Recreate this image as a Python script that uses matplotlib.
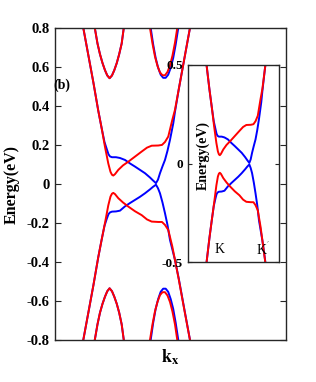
import matplotlib
matplotlib.use("Agg")
import matplotlib.pyplot as plt

plt.rcParams["font.family"] = ["Liberation Serif", "DejaVu Serif"]
plt.rcParams["mathtext.fontset"] = "stix"

# band data (kx in arbitrary units, E in eV)
k_red = [0.283, 0.330, 0.384, 0.433, 0.467, 0.500, 0.533, 0.555, 0.570, 0.583,
         0.600, 0.633, 0.680, 0.733, 0.800, 0.867, 0.920, 0.967, 1.033, 1.070,
         1.100, 1.133, 1.173, 1.200, 1.238, 1.295, 1.350]
c1_red = [0.80, 0.67, 0.52, 0.375, 0.285, 0.19, 0.105, 0.062, 0.047, 0.043,
          0.05, 0.072, 0.095, 0.114, 0.140, 0.166, 0.186, 0.196, 0.197, 0.200,
          0.215, 0.243, 0.328, 0.38, 0.486, 0.646, 0.80]
v1_red = [-0.80, -0.67, -0.52, -0.375, -0.285, -0.20, -0.11, -0.065, -0.05, -0.046,
          -0.052, -0.073, -0.095, -0.116, -0.140, -0.160, -0.182, -0.193, -0.195, -0.195,
          -0.21, -0.236, -0.32, -0.39, -0.49, -0.65, -0.80]

k_blue = [0.283, 0.330, 0.384, 0.433, 0.467, 0.495, 0.517, 0.535, 0.550, 0.570,
          0.610, 0.650, 0.700, 0.750, 0.800, 0.850, 0.900, 0.950, 0.980, 1.010,
          1.030, 1.050, 1.075, 1.100, 1.125, 1.150, 1.183, 1.200, 1.238, 1.295, 1.350]
c1_blue = [0.80, 0.67, 0.52, 0.375, 0.285, 0.215, 0.18, 0.152, 0.141, 0.137,
           0.137, 0.133, 0.123, 0.105, 0.089, 0.072, 0.055, 0.033, 0.018, 0.004,
           0.022, 0.055, 0.09, 0.123, 0.17, 0.226, 0.311, 0.37, 0.486, 0.646, 0.80]
v1_blue = [-0.80, -0.67, -0.52, -0.375, -0.285, -0.215, -0.18, -0.155, -0.146, -0.142,
           -0.141, -0.137, -0.115, -0.098, -0.082, -0.066, -0.048, -0.028, -0.015, -0.004,
           -0.022, -0.048, -0.095, -0.15, -0.21, -0.287, -0.355, -0.39, -0.486, -0.646, -0.80]

# higher sub-bands (left valley, red and blue coincide)
k_left = [0.398, 0.425, 0.450, 0.475, 0.500, 0.523, 0.546, 0.570, 0.593, 0.618, 0.642, 0.667, 0.688]
c2_left = [0.80, 0.72, 0.665, 0.62, 0.583, 0.556, 0.542, 0.556, 0.583, 0.62, 0.665, 0.72, 0.80]
v2_left = [-0.80, -0.72, -0.66, -0.615, -0.578, -0.55, -0.535, -0.55, -0.578, -0.615, -0.66, -0.72, -0.80]

# right valley
k_right_red = [0.950, 0.975, 1.000, 1.025, 1.050, 1.075, 1.100, 1.125, 1.150, 1.175, 1.200, 1.223]
c2_right_red = [0.80, 0.72, 0.653, 0.605, 0.572, 0.557, 0.557, 0.574, 0.608, 0.658, 0.724, 0.80]
v2_right_red = [-0.80, -0.72, -0.653, -0.605, -0.57, -0.555, -0.555, -0.572, -0.605, -0.655, -0.72, -0.80]
k_right_blue = [0.957, 0.982, 1.007, 1.032, 1.057, 1.082, 1.107, 1.132, 1.157, 1.182, 1.207, 1.233]
c2_right_blue = [0.80, 0.715, 0.645, 0.595, 0.56, 0.544, 0.544, 0.56, 0.595, 0.645, 0.715, 0.80]
v2_right_blue = [-0.80, -0.712, -0.64, -0.59, -0.553, -0.537, -0.537, -0.553, -0.59, -0.64, -0.712, -0.80]

main_ticks = [-0.8, -0.6, -0.4, -0.2, 0, 0.2, 0.4, 0.6, 0.8]
main_ticklabels = ["-0.8", "-0.6", "-0.4", "-0.2", "0", "0.2", "0.4", "0.6", "0.8"]
inset_ticks = [-0.5, 0, 0.5]
inset_ticklabels = ["-0.5", "0", "0.5"]

lw = 1.4


def draw_bands(a):
    a.plot(k_blue, c1_blue, color="blue", lw=lw)
    a.plot(k_blue, v1_blue, color="blue", lw=lw)
    a.plot(k_left, c2_left, color="blue", lw=lw)
    a.plot(k_left, v2_left, color="blue", lw=lw)
    a.plot(k_right_blue, c2_right_blue, color="blue", lw=lw)
    a.plot(k_right_blue, v2_right_blue, color="blue", lw=lw)
    a.plot(k_red, c1_red, color="red", lw=lw)
    a.plot(k_red, v1_red, color="red", lw=lw)
    a.plot(k_left, c2_left, color="red", lw=lw)
    a.plot(k_left, v2_left, color="red", lw=lw)
    a.plot(k_right_red, c2_right_red, color="red", lw=lw)
    a.plot(k_right_red, v2_right_red, color="red", lw=lw)


def style_axes(a):
    for s in a.spines.values():
        s.set_color("#262626")
        s.set_linewidth(1.0)
    a.set_xticks([])


fig = plt.figure(figsize=(3.16, 3.82), dpi=100)

ax = fig.add_axes([0.174, 0.110, 0.731, 0.817])
draw_bands(ax)
ax.set_xlim(0, 2.31)
ax.set_ylim(-0.8, 0.8)
style_axes(ax)
ax.set_yticks(main_ticks)
ax.set_yticklabels(main_ticklabels, fontweight="bold", fontsize=10.5)
ax.tick_params(axis="y", direction="in", length=4, width=0.8, right=True,
               color="#262626", pad=4)

fig.text(11.5 / 316, 1 - 185 / 382, "Energy(eV)", rotation=90, ha="center",
         va="center", fontsize=11.5, fontweight="bold")
fig.text(170.5 / 316, 1 - 357 / 382, r"$\mathbf{k}_{\mathbf{x}}$", ha="center",
         va="center", fontsize=13)
fig.text(53 / 316, 1 - 85 / 382, "(b)", ha="left", va="center",
         fontsize=10, fontweight="bold")

# inset: zoom on the same bands
ax_in = fig.add_axes([0.596, 0.313, 0.288, 0.517])
draw_bands(ax_in)
ax_in.set_xlim(0.127, 1.445)
ax_in.set_ylim(-0.5, 0.5)
style_axes(ax_in)
ax_in.set_yticks(inset_ticks)
ax_in.set_yticklabels(inset_ticklabels, fontweight="bold", fontsize=9.5)
ax_in.tick_params(axis="y", direction="in", length=3, width=0.8, right=True,
                  color="#262626", pad=4)
ax_in.text(0.16, 0.54, "Energy(eV)", transform=ax_in.transAxes, rotation=90,
           ha="center", va="center", fontsize=10, fontweight="bold")
ax_in.text(0.572, -0.434, "K", ha="center", va="center", fontsize=10)
ax_in.text(1.21, -0.434, "K$^{'}$", ha="center", va="center", fontsize=10)

fig.savefig("out.png", dpi=100)
